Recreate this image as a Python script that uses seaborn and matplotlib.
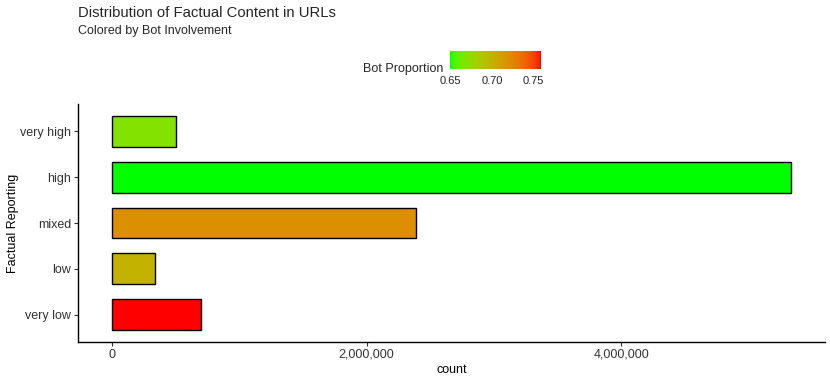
import numpy as np
import pandas as pd
import matplotlib
matplotlib.use("Agg")
import matplotlib.pyplot as plt
import seaborn as sns
from matplotlib.colors import ListedColormap, Normalize
from matplotlib.cm import ScalarMappable
from matplotlib.ticker import FuncFormatter

# dados
categorias = ["very high", "high", "mixed", "low", "very low"]
contagens = [500000, 5335000, 2385000, 340000, 700000]
prop_bot = [0.669, 0.649, 0.7195, 0.700, 0.759]
ticks_legenda = [0.65, 0.70, 0.75]

df = pd.DataFrame({"factual": categorias, "count": contagens, "bot": prop_bot})


# gradiente verde -> vermelho interpolado em Lab (como o ggplot)
def hex_para_lab(h):
    rgb = np.array([int(h[i:i + 2], 16) / 255 for i in (1, 3, 5)])
    lin = np.where(rgb <= 0.04045, rgb / 12.92, ((rgb + 0.055) / 1.055) ** 2.4)
    M = np.array([[0.4124, 0.3576, 0.1805],
                  [0.2126, 0.7152, 0.0722],
                  [0.0193, 0.1192, 0.9505]])
    xyz = M @ lin / np.array([0.95047, 1.0, 1.08883])
    d = 6 / 29
    f = np.where(xyz > d ** 3, np.cbrt(xyz), xyz / (3 * d ** 2) + 4 / 29)
    return np.array([116 * f[1] - 16, 500 * (f[0] - f[1]), 200 * (f[1] - f[2])])


def lab_para_rgb(lab):
    L, a, b = lab
    fy = (L + 16) / 116
    f = np.array([fy + a / 500, fy, fy - b / 200])
    d = 6 / 29
    xyz = np.where(f > d, f ** 3, 3 * d ** 2 * (f - 4 / 29)) * np.array([0.95047, 1.0, 1.08883])
    Minv = np.array([[3.2406, -1.5372, -0.4986],
                     [-0.9689, 1.8758, 0.0415],
                     [0.0557, -0.2040, 1.0570]])
    lin = Minv @ xyz
    lin = np.clip(lin, 0, 1)
    rgb = np.where(lin <= 0.0031308, 12.92 * lin, 1.055 * lin ** (1 / 2.4) - 0.055)
    return np.clip(rgb, 0, 1)


lab_baixo = hex_para_lab("#00FF00")
lab_alto = hex_para_lab("#FF0000")
cores_mapa = [lab_para_rgb(lab_baixo + t * (lab_alto - lab_baixo)) for t in np.linspace(0, 1, 256)]
cmap = ListedColormap(cores_mapa)
norm = Normalize(vmin=min(prop_bot), vmax=max(prop_bot))
paleta = {c: cmap(norm(v)) for c, v in zip(categorias, prop_bot)}

sns.set_style("ticks")
plt.rcParams["font.family"] = ["Liberation Sans", "DejaVu Sans"]

fig = plt.figure(figsize=(8.3, 3.81), dpi=100)
W, H = 830, 381
ax = fig.add_axes([78 / W, 1 - 342 / H, 747 / W, 238 / H])

sns.barplot(data=df, x="count", y="factual", hue="factual", palette=paleta,
            order=categorias, orient="h", width=0.67, edgecolor="black",
            linewidth=1.0, saturation=1, legend=False, ax=ax)

ax.set_xlim(-0.05 * max(contagens), 1.05 * max(contagens))
ax.set_ylim(4.6, -0.6)
ax.xaxis.set_major_formatter(FuncFormatter(lambda v, p: f"{int(v):,}"))
ax.set_xticks([0, 2000000, 4000000])
sns.despine(ax=ax)
for s in ["left", "bottom"]:
    ax.spines[s].set_color("black")
    ax.spines[s].set_linewidth(1.0)
ax.tick_params(axis="both", labelsize=9, colors="#333333", length=3, width=0.8, pad=2)
ax.set_xlabel("count", fontsize=9, color="black", labelpad=2)
ax.set_ylabel("Factual Reporting", fontsize=9, color="black", labelpad=0.5)

fig.text(78 / W, 1 - 13 / H, "Distribution of Factual Content in URLs", fontsize=10.7, va="center", ha="left")
fig.text(78 / W, 1 - 31 / H, "Colored by Bot Involvement", fontsize=9, va="center", ha="left")

# legenda de cor
cax = fig.add_axes([450 / W, 1 - 69 / H, 91 / W, 18 / H])
cb = fig.colorbar(ScalarMappable(norm=norm, cmap=cmap), cax=cax, orientation="horizontal")
cb.outline.set_visible(False)
cb.set_ticks(ticks_legenda)
cb.set_ticklabels([f"{t:.2f}" for t in ticks_legenda])
cax.tick_params(direction="in", color="white", length=3.5, width=0.8, top=True, bottom=True,
                labelsize=8, labelcolor="#222222", pad=5)
fig.text(443 / W, 1 - 69 / H, "Bot Proportion", fontsize=9, va="center", ha="right")

fig.savefig("out.png", dpi=100)
